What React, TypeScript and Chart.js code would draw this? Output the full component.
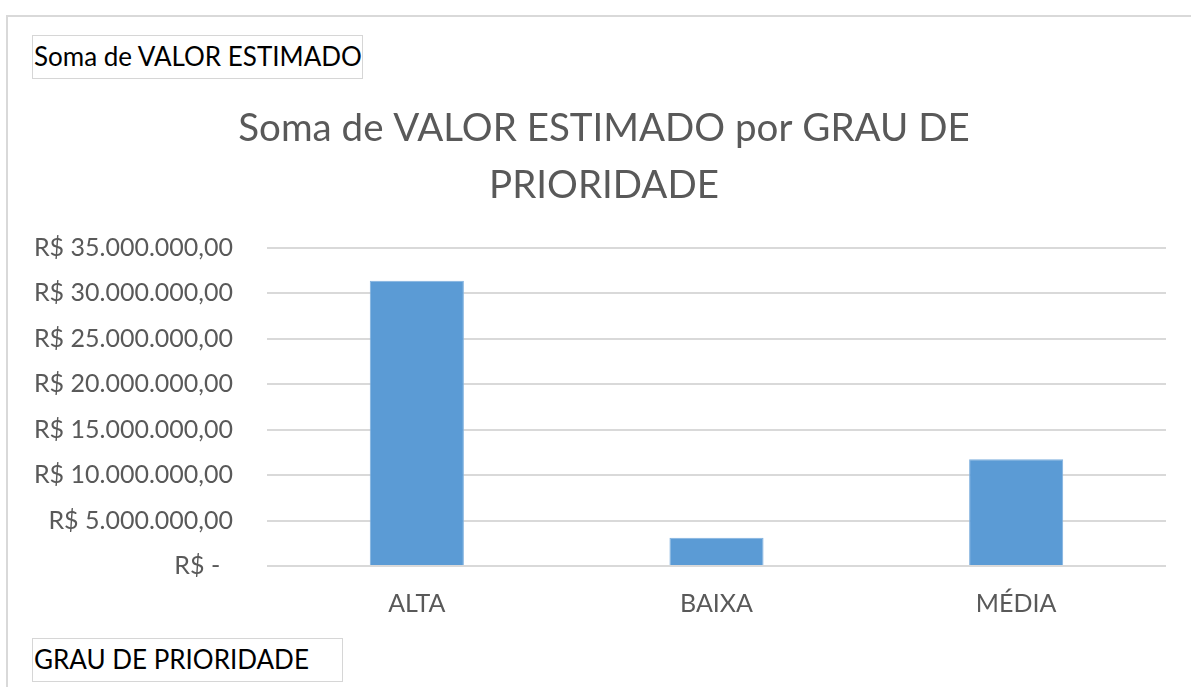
import React, { useEffect, useRef } from "react";
import { Chart, registerables } from "chart.js";

Chart.register(...registerables);

const categories = ["ALTA", "BAIXA", "MÉDIA"];
const values = [31400000, 3100000, 11750000];
const titleLines = ["Soma de VALOR ESTIMADO por GRAU DE", "PRIORIDADE"];
const valueFieldLabel = "Soma de VALOR ESTIMADO";
const axisFieldLabel = "GRAU DE PRIORIDADE";
const yMin = 0;
const yMax = 35000000;
const yStep = 5000000;

function formatBRL(v: number): string {
  if (v === 0) return "R$ -  ";
  const parts = v.toFixed(2).split(".");
  const intPart = parts[0].replace(/\B(?=(\d{3})+(?!\d))/g, ".");
  return "R$ " + intPart + "," + parts[1];
}

const FONT = "Lato, 'Open Sans', sans-serif";
const GRAY = "#595959";

const titleShift = {
  id: "titleShift",
  afterLayout(chart: any) {
    if (chart.titleBlock) {
      chart.titleBlock.left = 42;
      chart.titleBlock.right = 1166;
    }
  },
};

export default function App() {
  const canvasRef = useRef<HTMLCanvasElement | null>(null);

  useEffect(() => {
    if (!canvasRef.current) return;
    const chart = new Chart(canvasRef.current, {
      type: "bar",
      data: {
        labels: categories,
        datasets: [
          {
            label: valueFieldLabel,
            data: values,
            backgroundColor: "#5B9BD5",
            borderColor: "#7fb0de",
            borderWidth: 1,
            categoryPercentage: 1,
            barPercentage: 0.314,
          },
        ],
      },
      plugins: [titleShift],
      options: {
        animation: false,
        responsive: false,
        maintainAspectRatio: false,
        layout: { padding: { left: 0, right: 25, top: 0, bottom: 0 } },
        plugins: {
          legend: { display: false },
          tooltip: { enabled: false },
          title: {
            display: true,
            text: titleLines,
            color: GRAY,
            font: { family: FONT, size: 38.5, weight: "normal", lineHeight: 1.48 },
            padding: { top: 100, bottom: 34 },
          },
        },
        scales: {
          x: {
            grid: { display: false },
            border: { display: false },
            ticks: {
              color: GRAY,
              font: { family: FONT, size: 25 },
              padding: 15,
              maxRotation: 0,
            },
            afterFit: (scale: any) => {
              scale.height = 121;
            },
          },
          y: {
            min: yMin,
            max: yMax,
            border: { display: false },
            grid: { color: "#d9d9d9", lineWidth: 2, drawTicks: false },
            ticks: {
              stepSize: yStep,
              color: GRAY,
              font: { family: FONT, size: 25 },
              padding: 34,
              callback: (v: any) => formatBRL(Number(v)),
            },
            afterFit: (scale: any) => {
              scale.width = 267;
            },
          },
        },
      },
    });
    return () => chart.destroy();
  }, []);

  const fieldStyle: React.CSSProperties = {
    position: "absolute",
    border: "1.5px solid #d6d6d6",
    fontFamily: FONT,
    fontSize: 26,
    color: "#000",
    lineHeight: "41px",
    paddingLeft: 1,
    boxSizing: "border-box",
    whiteSpace: "nowrap",
    background: "#fff",
  };

  return (
    <div style={{ position: "absolute", left: 0, top: 0, width: 1191, height: 687, background: "#fff", overflow: "hidden" }}>
      <div style={{ position: "absolute", left: 6, top: 15, width: 1191, height: 2, background: "#d9d9d9" }} />
      <div style={{ position: "absolute", left: 6, top: 15, width: 2, height: 700, background: "#d9d9d9" }} />
      <canvas ref={canvasRef} width={1191} height={687} style={{ position: "absolute", left: 0, top: 0 }} />
      <div style={{ ...fieldStyle, left: 32, top: 35, width: 331, height: 44 }}>{valueFieldLabel}</div>
      <div style={{ ...fieldStyle, left: 32, top: 638, width: 311, height: 44 }}>{axisFieldLabel}</div>
    </div>
  );
}
